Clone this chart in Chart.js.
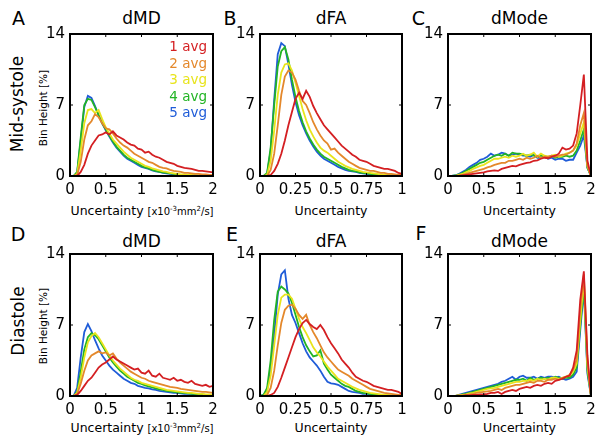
<!DOCTYPE html>
<html>
<head>
<meta charset="utf-8">
<script src="https://cdn.jsdelivr.net/npm/chart.js@4/dist/chart.umd.min.js"></script>
<style>
  body { margin: 0; background: #fff; }
  #fig { position: relative; width: 604px; height: 444px; overflow: hidden; font-family: "DejaVu Sans", sans-serif; color: #000; }
  .t { position: absolute; white-space: nowrap; line-height: 1; transform: translate(-50%, -50%); }
  .rot { transform: translate(-50%, -50%) rotate(-90deg); }
  .leg { position: absolute; white-space: nowrap; line-height: 1; font-size: 13.5px; transform: translate(-100%, -50%); }
  canvas { position: absolute; }
  sup { font-size: 7px; vertical-align: 4px; }
</style>
</head>
<body>
<div id="fig">
  <div class="t" style="left:18.5px;top:18px;font-size:19px">A</div>
  <div class="t" style="left:230px;top:18px;font-size:19px">B</div>
  <div class="t" style="left:418.5px;top:18px;font-size:19px">C</div>
  <div class="t" style="left:18px;top:234px;font-size:19px">D</div>
  <div class="t" style="left:232px;top:234px;font-size:19px">E</div>
  <div class="t" style="left:421px;top:233px;font-size:19px">F</div>

  <div class="t" style="left:141.5px;top:18px;font-size:17px">dMD</div>
  <div class="t" style="left:331px;top:18px;font-size:17px">dFA</div>
  <div class="t" style="left:519.5px;top:18px;font-size:17px">dMode</div>
  <div class="t" style="left:141.5px;top:241px;font-size:17px">dMD</div>
  <div class="t" style="left:331px;top:241px;font-size:17px">dFA</div>
  <div class="t" style="left:519.5px;top:241px;font-size:17px">dMode</div>

  <div class="t rot" style="left:16.5px;top:104px;font-size:17px">Mid-systole</div>
  <div class="t rot" style="left:17.5px;top:321px;font-size:17px">Diastole</div>
  <div class="t rot" style="left:42.5px;top:108px;font-size:10.5px">Bin Height [%]</div>
  <div class="t rot" style="left:42.5px;top:326px;font-size:10.5px">Bin Height [%]</div>

  <div class="t" style="left:142px;top:211px;font-size:12.5px">Uncertainty <span style="font-size:10px">[x10<sup>-3</sup>mm<sup>2</sup>/s]</span></div>
  <div class="t" style="left:331px;top:211px;font-size:12.5px">Uncertainty</div>
  <div class="t" style="left:519.5px;top:211px;font-size:12.5px">Uncertainty</div>
  <div class="t" style="left:142px;top:428px;font-size:12.5px">Uncertainty <span style="font-size:10px">[x10<sup>-3</sup>mm<sup>2</sup>/s]</span></div>
  <div class="t" style="left:331px;top:428px;font-size:12.5px">Uncertainty</div>
  <div class="t" style="left:519.5px;top:428px;font-size:12.5px">Uncertainty</div>
</div>
<script>
// bin centres
const mdX = [0,0.05,0.1,0.15,0.2,0.25,0.3,0.35,0.4,0.45,0.5,0.55,0.6,0.65,0.7,0.75,0.8,0.85,0.9,0.95,1,1.05,1.1,1.15,1.2,1.25,1.3,1.35,1.4,1.45,1.5,1.55,1.6,1.65,1.7,1.75,1.8,1.85,1.9,1.95,2];
const faX = [0,0.025,0.05,0.075,0.1,0.125,0.15,0.175,0.2,0.225,0.25,0.275,0.3,0.325,0.35,0.375,0.4,0.425,0.45,0.475,0.5,0.525,0.55,0.575,0.6,0.625,0.65,0.675,0.7,0.725,0.75,0.775,0.8,0.825,0.85,0.875,0.9,0.925,0.95,0.975,1];
const modeX = [0,0.05,0.1,0.15,0.2,0.25,0.3,0.35,0.4,0.45,0.5,0.55,0.6,0.65,0.7,0.75,0.8,0.85,0.9,0.95,1,1.05,1.1,1.15,1.2,1.25,1.3,1.35,1.4,1.45,1.5,1.55,1.6,1.65,1.7,1.75,1.8,1.85,1.9,1.95,2];

const mdTicks = [0, 0.5, 1, 1.5, 2];
const faTicks = [0, 0.25, 0.5, 0.75, 1];
const modeTicks = [0, 0.5, 1, 1.5, 2];
const yTicks = [0, 7, 14];

const avgLabels = ["1 avg", "2 avg", "3 avg", "4 avg", "5 avg"];
const avgColors = ["#d41f22", "#e4882b", "#e8e41c", "#22b424", "#1f5cd8"];

// mid-systole, dMD
const sysMD1 = [0,0,0,0.4,1.1,2.2,3.0,3.5,4.0,4.1,4.3,4.1,4.4,4.0,3.8,3.6,3.3,3.1,3.0,2.7,2.6,2.3,2.4,2.1,1.9,1.8,1.6,1.4,1.3,1.2,1.0,0.9,0.8,0.75,0.7,0.6,0.5,0.5,0.45,0.4,0.35];
const sysMD2 = [0,0,0.1,1.4,3.6,5.0,5.4,6.1,5.8,5.2,4.7,4.6,4.2,3.7,3.3,3.0,2.8,2.5,2.2,2.0,1.8,1.6,1.4,1.3,1.1,0.9,0.8,0.75,0.6,0.5,0.45,0.4,0.3,0.3,0.25,0.2,0.2,0.15,0.15,0.1,0.1];
const sysMD3 = [0,0,0.2,2.5,5.2,6.5,6.6,6.2,6.5,5.6,4.8,4.2,3.6,3.2,2.8,2.4,2.1,1.8,1.6,1.4,1.2,1.0,0.9,0.75,0.65,0.55,0.45,0.4,0.3,0.25,0.2,0.15,0.15,0.1,0.1,0.05,0.05,0.05,0,0,0];
const sysMD4 = [0,0,0.4,3.8,7.0,7.6,7.5,6.8,6.0,5.2,4.6,4.0,3.4,2.9,2.5,2.1,1.8,1.6,1.4,1.2,1.0,0.85,0.75,0.6,0.5,0.4,0.35,0.3,0.25,0.2,0.15,0.1,0.1,0.05,0.05,0.05,0,0,0,0,0];
const sysMD5 = [0,0,0.3,3.5,6.8,7.9,7.7,6.9,6.0,5.2,4.5,3.9,3.3,2.8,2.4,2.0,1.7,1.5,1.3,1.1,0.9,0.8,0.7,0.55,0.45,0.4,0.3,0.25,0.2,0.15,0.1,0.1,0.05,0.05,0.05,0,0,0,0,0,0];

// mid-systole, dFA
const sysFA1 = [0,0,0,0.1,0.5,1.2,2.2,3.5,5.0,6.3,7.6,8.2,7.6,8.4,7.8,6.9,6.2,5.6,5.0,4.6,4.2,3.8,3.4,3.0,2.7,2.4,2.1,1.9,1.6,1.5,1.4,1.2,1.0,0.9,0.8,0.7,0.7,0.6,0.5,0.3,0.2];
const sysFA2 = [0,0,0,0.6,2.2,5.0,8.0,9.8,10.4,10.2,9.5,8.4,7.4,7.0,6.2,5.3,4.6,4.0,3.5,3.2,2.6,2.7,2.3,2.0,1.7,1.4,1.2,1.0,0.8,0.7,0.6,0.5,0.5,0.4,0.3,0.3,0.2,0.2,0.15,0.1,0.1];
const sysFA3 = [0,0,0.1,1.5,4.5,8.0,10.2,11.0,11.1,10.4,9.2,7.9,6.6,5.5,4.6,3.9,3.3,2.8,2.5,2.3,2.0,1.7,1.4,1.2,1.0,0.85,0.7,0.6,0.5,0.4,0.35,0.3,0.25,0.2,0.15,0.1,0.1,0.05,0.05,0,0];
const sysFA4 = [0,0,0.3,2.8,7.0,10.8,12.3,12.7,11.5,9.5,7.8,6.4,5.3,4.4,3.7,3.1,2.6,2.2,1.9,1.7,1.5,1.3,1.1,0.9,0.75,0.6,0.5,0.45,0.35,0.3,0.25,0.2,0.15,0.1,0.1,0.05,0.05,0.05,0,0,0];
const sysFA5 = [0,0,0.2,2.5,7.5,12.0,13.1,12.8,11.0,9.0,7.3,6.0,5.0,4.2,3.5,2.9,2.4,2.0,1.7,1.5,1.3,1.1,0.9,0.75,0.6,0.5,0.45,0.4,0.3,0.25,0.2,0.15,0.15,0.1,0.1,0.05,0.05,0,0,0,0];

// mid-systole, dMode
const sysMode1 = [0,0,0,0,0.05,0.1,0.15,0.2,0.25,0.3,0.35,0.45,0.5,0.55,0.5,0.7,0.8,0.9,1.0,0.95,1.1,1.2,1.3,1.35,1.5,1.55,1.7,1.8,1.75,1.9,2.0,2.2,2.8,2.6,2.7,3.0,4.2,7.0,10.0,1.5,0];
const sysMode2 = [0,0,0,0.05,0.1,0.2,0.3,0.4,0.5,0.6,0.7,0.85,0.95,1.1,1.2,1.3,1.3,1.5,1.5,1.6,1.7,1.6,1.8,1.7,1.8,2.0,1.8,1.9,1.9,2.0,1.9,2.0,2.1,2.1,2.3,2.5,3.2,5.0,6.2,1.0,0];
const sysMode3 = [0,0,0,0.1,0.2,0.35,0.5,0.7,0.85,1.0,1.1,1.3,1.5,1.7,1.7,1.8,1.9,1.8,2.0,1.9,2.0,2.2,2.0,2.1,2.3,1.9,2.2,2.0,1.9,2.0,2.1,1.9,2.0,2.2,2.3,2.5,3.0,4.2,5.3,1.0,0];
const sysMode4 = [0,0,0.05,0.15,0.3,0.5,0.7,0.9,1.1,1.3,1.4,1.6,1.8,2.0,2.1,2.0,2.2,2.0,2.3,2.2,2.2,2.1,2.0,2.1,2.0,1.9,2.0,1.9,1.8,2.0,1.8,1.9,1.9,2.0,1.9,2.0,2.5,3.5,4.6,0.8,0];
const sysMode5 = [0,0,0.05,0.2,0.4,0.6,0.9,1.1,1.3,1.6,1.7,1.9,2.2,2.0,2.1,2.3,2.2,2.0,2.1,2.2,2.1,2.0,2.0,1.9,2.1,1.8,1.8,1.9,1.7,1.8,1.6,1.7,1.7,1.5,1.6,1.6,2.3,3.0,4.0,0.8,0];

// diastole, dMD
const diaMD1 = [0,0,0.1,0.5,1.0,1.5,1.8,2.3,2.8,3.1,3.3,3.6,3.9,3.6,3.4,3.2,3.0,2.8,2.6,2.7,2.3,2.2,2.5,2.0,1.9,2.2,1.8,1.7,1.6,1.8,1.5,1.6,1.4,1.3,1.5,1.2,1.1,1.0,1.1,0.9,1.0];
const diaMD2 = [0,0,0.2,1.2,2.5,3.5,4.0,4.2,4.4,4.2,4.3,4.0,4.2,3.7,3.3,3.0,2.7,2.4,2.2,2.0,1.8,1.7,1.5,1.4,1.3,1.2,1.1,1.0,0.9,0.85,0.8,0.7,0.65,0.6,0.55,0.5,0.45,0.4,0.4,0.35,0.3];
const diaMD3 = [0,0,0.3,1.8,3.8,5.3,5.9,6.2,5.8,5.2,4.6,4.0,3.5,3.1,2.7,2.4,2.1,1.8,1.6,1.5,1.3,1.2,1.1,1.0,0.9,0.8,0.7,0.6,0.55,0.5,0.45,0.4,0.35,0.3,0.3,0.25,0.2,0.2,0.15,0.15,0.1];
const diaMD4 = [0,0,0.4,2.4,4.6,5.8,6.2,6.0,5.6,5.0,4.4,3.8,3.3,2.9,2.5,2.2,1.9,1.7,1.5,1.3,1.2,1.05,0.95,0.85,0.75,0.65,0.6,0.5,0.45,0.4,0.35,0.3,0.3,0.25,0.2,0.2,0.15,0.15,0.1,0.1,0.1];
const diaMD5 = [0,0,0.8,3.8,6.3,7.1,6.4,5.5,4.7,4.0,3.5,3.0,2.6,2.3,2.0,1.7,1.5,1.3,1.2,1.0,0.9,0.8,0.75,0.65,0.6,0.5,0.45,0.4,0.35,0.3,0.3,0.25,0.2,0.2,0.2,0.15,0.15,0.1,0.1,0.1,0.1];

// diastole, dFA
const diaFA1 = [0,0,0,0.1,0.3,0.9,1.8,2.8,3.8,4.8,5.8,6.6,7.2,7.5,7.1,6.8,6.6,7.0,6.5,5.8,5.2,4.7,4.2,3.6,3.2,2.8,2.3,1.9,1.7,1.5,1.4,1.2,1.0,0.9,0.8,0.7,0.6,0.6,0.5,0.4,0.2];
const diaFA2 = [0,0,0.1,0.8,2.5,5.0,7.2,8.5,8.9,9.0,8.6,8.0,7.6,8.0,7.0,6.3,5.7,5.0,4.3,3.8,3.4,3.0,2.6,2.4,2.2,2.0,1.7,1.5,1.3,1.1,0.9,0.7,0.6,0.5,0.4,0.3,0.25,0.2,0.15,0.1,0.1];
const diaFA3 = [0,0,0.4,2.0,5.0,8.0,9.7,10.0,10.0,9.6,8.6,7.6,6.8,6.2,5.5,4.8,4.3,3.9,3.4,2.9,2.5,2.1,1.7,1.5,1.3,1.1,0.9,0.75,0.6,0.5,0.4,0.3,0.25,0.2,0.15,0.1,0.1,0.05,0.05,0,0];
const diaFA4 = [0,0.1,0.8,3.5,7.5,10.3,10.8,10.5,10.1,9.2,8.0,6.8,5.8,5.0,4.4,3.9,4.0,4.5,3.2,2.6,2.1,1.8,1.5,1.2,1.0,0.9,0.7,0.5,0.4,0.3,0.25,0.2,0.15,0.1,0.1,0.05,0.05,0,0,0,0];
const diaFA5 = [0,0.1,0.6,2.5,6.0,10.0,12.0,12.4,9.6,8.0,7.2,6.2,5.2,4.4,3.8,3.4,3.0,2.5,1.9,1.4,1.25,1.2,1.1,0.9,0.7,0.5,0.4,0.35,0.3,0.2,0.2,0.15,0.1,0.1,0.05,0.05,0,0,0,0,0];

// diastole, dMode
const diaMode1 = [0,0,0,0,0,0.05,0.05,0.1,0.1,0.15,0.15,0.2,0.3,0.3,0.4,0.2,0.4,0.5,0.6,0.5,0.7,0.8,0.9,0.8,1.0,1.1,1.0,1.2,1.3,1.2,1.5,1.6,1.7,1.9,2.0,2.8,4.5,9.5,12.3,4.0,0];
const diaMode2 = [0,0,0,0.05,0.05,0.1,0.15,0.2,0.3,0.35,0.4,0.45,0.5,0.6,0.7,0.6,0.8,0.9,1.0,1.1,1.1,1.2,1.3,1.4,1.3,1.5,1.5,1.4,1.6,1.6,1.7,1.6,1.8,1.9,2.1,2.6,3.6,8.5,12.0,3.5,0];
const diaMode3 = [0,0,0,0.05,0.1,0.15,0.25,0.3,0.4,0.5,0.6,0.7,0.75,0.8,0.9,1.0,1.1,1.2,1.3,1.4,1.4,1.5,1.5,1.6,1.5,1.7,1.6,1.7,1.6,1.8,1.8,1.7,1.8,1.9,2.0,2.4,3.2,7.5,11.5,3.0,0];
const diaMode4 = [0,0,0,0.05,0.15,0.2,0.3,0.4,0.5,0.6,0.7,0.8,0.9,1.0,1.1,1.2,1.3,1.4,1.5,1.6,1.6,1.7,1.5,1.8,1.6,1.7,1.8,1.7,1.8,1.7,1.9,1.8,1.7,1.8,1.8,2.1,2.8,7.0,10.8,2.5,0];
const diaMode5 = [0,0,0,0.1,0.2,0.3,0.4,0.5,0.6,0.7,0.8,0.9,1.0,1.1,1.2,1.4,1.5,1.7,1.9,1.6,1.9,2.0,1.8,1.8,1.9,1.7,1.9,1.8,1.9,1.9,1.8,1.9,1.7,1.6,1.7,1.9,2.4,6.5,10.5,2.2,0];

// inner tick marks and full box, matlab style
const boxTicks = {
  id: "boxTicks",
  afterDatasetsDraw(chart) {
    const { ctx, chartArea: a, scales: { x, y } } = chart;
    ctx.save();
    ctx.strokeStyle = "#000";
    ctx.lineWidth = 1;
    ctx.beginPath();
    x.ticks.forEach(t => {
      const px = x.getPixelForValue(t.value);
      ctx.moveTo(px, a.bottom); ctx.lineTo(px, a.bottom - 3);
      ctx.moveTo(px, a.top); ctx.lineTo(px, a.top + 3);
    });
    y.ticks.forEach(t => {
      const py = y.getPixelForValue(t.value);
      ctx.moveTo(a.left, py); ctx.lineTo(a.left + 3, py);
      ctx.moveTo(a.right, py); ctx.lineTo(a.right - 3, py);
    });
    ctx.stroke();
    ctx.lineWidth = 2;
    ctx.strokeRect(a.left, a.top, a.right - a.left, a.bottom - a.top);
    ctx.restore();
  }
};

const tickFont = { family: "DejaVu Sans", size: 15 };

function makePanel(box, xs, xTicks, xMax, series) {
  const [L, T, R, B] = box;
  const canvas = document.createElement("canvas");
  canvas.width = (R - L) + 50;
  canvas.height = (B - T) + 35;
  canvas.style.left = (L - 40) + "px";
  canvas.style.top = (T - 10) + "px";
  document.getElementById("fig").appendChild(canvas);

  new Chart(canvas.getContext("2d"), {
    type: "line",
    data: {
      datasets: series.map((s, i) => ({
        label: avgLabels[i],
        data: s.map((v, j) => ({ x: xs[j], y: v })),
        borderColor: avgColors[i],
        borderWidth: 1.8,
        pointRadius: 0,
        tension: 0,
        fill: false,
      })),
    },
    options: {
      responsive: false,
      animation: false,
      devicePixelRatio: 1,
      layout: { padding: { left: 0, top: 10, right: 10, bottom: 0 } },
      plugins: { legend: { display: false }, tooltip: { enabled: false } },
      scales: {
        x: {
          type: "linear",
          min: 0,
          max: xMax,
          afterBuildTicks: s => { s.ticks = xTicks.map(v => ({ value: v })); },
          afterFit: s => { s.height = 25; s.paddingLeft = 0; s.paddingRight = 0; },
          grid: { display: false, drawTicks: false },
          border: { display: false },
          ticks: { color: "#000", font: tickFont, padding: 5, maxRotation: 0, autoSkip: false, callback: v => String(v) },
        },
        y: {
          min: 0,
          max: 14,
          afterBuildTicks: s => { s.ticks = yTicks.map(v => ({ value: v })); },
          afterFit: s => { s.width = 40; s.paddingTop = 0; s.paddingBottom = 0; },
          grid: { display: false, drawTicks: false },
          border: { display: false },
          ticks: { color: "#000", font: tickFont, padding: 5, callback: v => String(v) },
        },
      },
    },
    plugins: [boxTicks],
  });
}

makePanel([70, 33.5, 213, 176], mdX, mdTicks, 2, [sysMD1, sysMD2, sysMD3, sysMD4, sysMD5]);
makePanel([259.5, 33.5, 402, 176], faX, faTicks, 1, [sysFA1, sysFA2, sysFA3, sysFA4, sysFA5]);
makePanel([448, 33.5, 591, 176], modeX, modeTicks, 2, [sysMode1, sysMode2, sysMode3, sysMode4, sysMode5]);
makePanel([70, 254, 213, 396], mdX, mdTicks, 2, [diaMD1, diaMD2, diaMD3, diaMD4, diaMD5]);
makePanel([259.5, 254, 402, 396], faX, faTicks, 1, [diaFA1, diaFA2, diaFA3, diaFA4, diaFA5]);
makePanel([448, 254, 591, 396], modeX, modeTicks, 2, [diaMode1, diaMode2, diaMode3, diaMode4, diaMode5]);

// colored legend text in panel A
const legendY = [47, 63.5, 80, 96.5, 113];
avgLabels.forEach((lab, i) => {
  const d = document.createElement("div");
  d.className = "leg";
  d.style.left = "207px";
  d.style.top = legendY[i] + "px";
  d.style.color = avgColors[i];
  d.textContent = lab;
  document.getElementById("fig").appendChild(d);
});
</script>
</body>
</html>
